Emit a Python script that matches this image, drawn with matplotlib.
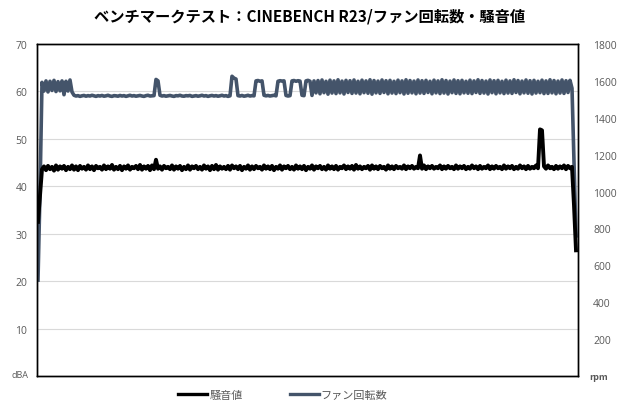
import numpy as np
import matplotlib
matplotlib.use("Agg")
import matplotlib.pyplot as plt
from matplotlib.lines import Line2D

plt.rcParams['font.family'] = ['Noto Sans CJK JP', 'DejaVu Sans']

title = "ベンチマークテスト：CINEBENCH R23/ファン回転数・騒音値"
noise_label = "騒音値"
fan_label = "ファン回転数"

left_ticks = [10, 20, 30, 40, 50, 60, 70]
right_ticks = [200, 400, 600, 800, 1000, 1200, 1400, 1600, 1800]

fan_rpm = [
    520, 1000, 1592, 1545, 1600, 1540, 1598, 1548, 1603, 1542,
    1596, 1546, 1600, 1525, 1598, 1545, 1605, 1540, 1522, 1518,
    1520, 1516, 1519, 1521, 1517, 1520, 1518, 1522, 1519, 1516,
    1520, 1518, 1521, 1517, 1519, 1522, 1518, 1516, 1520, 1519,
    1517, 1521, 1518, 1520, 1516, 1519, 1522, 1518, 1520, 1517,
    1519, 1521, 1518, 1516, 1520, 1522, 1518, 1519, 1520, 1608,
    1600, 1522, 1518, 1520, 1517, 1519, 1521, 1518, 1516, 1520,
    1519, 1522, 1518, 1517, 1520, 1519, 1521, 1516, 1518, 1520,
    1517, 1519, 1522, 1518, 1520, 1516, 1519, 1521, 1518, 1520,
    1517, 1519, 1522, 1518, 1520, 1516, 1519, 1625, 1615, 1610,
    1520, 1518, 1521, 1517, 1519, 1522, 1518, 1520, 1519, 1600,
    1602, 1598, 1600, 1522, 1519, 1521, 1518, 1520, 1522, 1519,
    1598, 1601, 1599, 1600, 1521, 1518, 1520, 1600, 1602, 1598,
    1601, 1599, 1522, 1520, 1600, 1603, 1598, 1521, 1600, 1535,
    1602, 1530, 1605, 1536, 1598, 1528, 1604, 1534, 1600, 1531,
    1606, 1535, 1599, 1529, 1603, 1537, 1601, 1532, 1605, 1534,
    1598, 1530, 1604, 1536, 1600, 1533, 1606, 1528, 1602, 1535,
    1599, 1532, 1605, 1537, 1601, 1530, 1603, 1534, 1598, 1531,
    1604, 1536, 1600, 1529, 1606, 1533, 1602, 1535, 1599, 1530,
    1605, 1534, 1601, 1532, 1603, 1537, 1598, 1530, 1604, 1535,
    1600, 1531, 1606, 1534, 1602, 1529, 1599, 1536, 1605, 1532,
    1601, 1530, 1603, 1535, 1598, 1533, 1604, 1531, 1600, 1537,
    1606, 1532, 1602, 1534, 1599, 1529, 1605, 1536, 1601, 1530,
    1603, 1535, 1598, 1531, 1604, 1534, 1600, 1532, 1606, 1537,
    1602, 1530, 1599, 1535, 1605, 1533, 1601, 1529, 1603, 1534,
    1598, 1536, 1604, 1531, 1600, 1532, 1606, 1535, 1602, 1530,
    1599, 1534, 1605, 1532, 1601, 1537, 1603, 1560, 1150, 760,
]

noise_dba = [
    32.5, 38.0, 43.6, 44.2, 43.4, 44.3, 43.6, 44.1, 43.3, 44.4,
    43.5, 44.2, 43.7, 44.3, 43.4, 44.1, 43.6, 44.4, 43.5, 44.2,
    43.4, 44.3, 43.7, 44.1, 43.5, 44.4, 43.6, 44.2, 43.4, 44.3,
    43.8, 44.1, 43.5, 44.4, 43.6, 44.2, 43.7, 44.5, 43.5, 44.1,
    43.6, 44.3, 43.4, 44.2, 43.7, 44.4, 43.5, 44.1, 43.8, 44.3,
    43.6, 44.5, 43.5, 44.2, 43.7, 44.3, 43.4, 44.4, 43.6, 45.6,
    43.7, 44.2, 43.5, 44.3, 43.8, 44.1, 43.6, 44.4, 43.5, 44.2,
    43.7, 44.3, 43.4, 44.1, 43.6, 44.4, 43.5, 44.2, 43.8, 44.3,
    43.6, 44.1, 43.5, 44.4, 43.7, 44.2, 43.4, 44.3, 43.6, 44.5,
    43.5, 44.2, 43.7, 44.1, 43.6, 44.3, 43.5, 44.4, 43.8, 44.2,
    43.6, 44.3, 43.4, 44.1, 43.7, 44.4, 43.5, 44.2, 43.6, 44.3,
    43.8, 44.1, 43.5, 44.4, 43.7, 44.2, 43.6, 44.3, 43.4, 44.1,
    43.7, 44.4, 43.5, 44.2, 43.8, 44.3, 43.6, 44.1, 43.5, 44.4,
    43.7, 44.2, 43.6, 44.3, 43.4, 44.1, 43.7, 44.4, 43.5, 44.2,
    43.8, 44.3, 43.6, 44.1, 43.5, 44.4, 43.7, 44.2, 43.6, 44.3,
    43.5, 44.1, 43.8, 44.4, 43.6, 44.2, 43.7, 44.3, 43.5, 44.5,
    43.7, 44.2, 43.6, 44.1, 43.8, 44.3, 43.5, 44.4, 43.7, 44.2,
    43.6, 44.3, 43.8, 44.1, 43.5, 44.4, 43.7, 44.2, 43.6, 44.3,
    43.8, 44.1, 43.7, 44.4, 43.6, 44.2, 43.8, 44.3, 43.7, 44.1,
    43.8, 46.5, 43.7, 44.4, 43.6, 44.2, 43.8, 44.3, 43.7, 44.1,
    43.8, 44.4, 43.6, 44.2, 43.7, 44.3, 43.8, 44.1, 43.6, 44.4,
    43.7, 44.2, 43.8, 44.3, 43.6, 44.1, 43.7, 44.4, 43.8, 44.2,
    43.6, 44.3, 43.7, 44.1, 43.8, 44.4, 43.6, 44.2, 43.7, 44.3,
    43.8, 44.1, 43.6, 44.4, 43.7, 44.2, 43.8, 44.3, 43.6, 44.1,
    43.7, 44.4, 43.8, 44.2, 43.6, 44.3, 43.7, 44.1, 43.8, 44.4,
    43.8, 52.0, 51.8, 44.2, 43.7, 44.4, 43.8, 44.1, 43.6, 44.3,
    43.7, 44.2, 43.8, 44.4, 43.6, 44.3, 43.8, 44.1, 36.0, 26.5,
]

W, H = 620, 410
fig = plt.figure(figsize=(W / 100, H / 100), dpi=100)
ax = fig.add_axes([37 / W, 1 - 377 / H, (578 - 37) / W, (377 - 45) / H])
ax2 = ax.twinx()

t = 1 + 2 * np.arange(len(fan_rpm))
fan_color = "#44546A"
grey = "#595959"

ax2.plot(t, fan_rpm, color=fan_color, lw=2.6, solid_joinstyle="round")
ax.plot(t, noise_dba, color="black", lw=2.8, solid_joinstyle="round")
ax.set_zorder(ax2.get_zorder() + 1)
ax.patch.set_visible(False)

ax.set_xlim(0, 541)
ax.set_ylim(0, 70)
ax2.set_ylim(0, 1800)
ax.set_xticks([])
ax.set_yticks(left_ticks)
ax2.set_yticks(right_ticks)
ax.tick_params(axis="y", length=0, pad=7, labelsize=7.5, labelcolor=grey)
ax2.tick_params(axis="y", length=0, pad=11, labelsize=7.5, labelcolor=grey)
for tl in ax.get_yticklabels() + ax2.get_yticklabels():
    tl.set_family(["Open Sans", "DejaVu Sans"])

for y in left_ticks[:-1]:
    ax2.axhline(y / 70 * 1800, color="#D9D9D9", lw=0.8, zorder=0)

for a in (ax, ax2):
    for s in a.spines.values():
        s.set_color("black")
        s.set_linewidth(1.0)

fig.text(310 / W, 1 - 16 / H, title, ha="center", va="center",
         fontsize=11, fontweight="bold", color="black")
fig.text(20 / W, 1 - 376 / H, "dBA", ha="center", va="center",
         fontsize=6.5, color=grey, family=["Open Sans", "DejaVu Sans"])
fig.text(599 / W, 1 - 378 / H, "rpm", ha="center", va="center",
         fontsize=6.5, color=grey, fontweight="bold", family=["Open Sans", "DejaVu Sans"])

handles = [Line2D([], [], color="black", lw=2.4), Line2D([], [], color=fan_color, lw=2.4)]
leg = fig.legend(handles, [noise_label, fan_label], loc="center",
                 bbox_to_anchor=(283 / W, 1 - 396 / H), ncol=2, frameon=False,
                 fontsize=8, handlelength=2.6, handletextpad=0.2, columnspacing=4.2)
for txt in leg.get_texts():
    txt.set_color(grey)

fig.savefig("out.png", dpi=100)
